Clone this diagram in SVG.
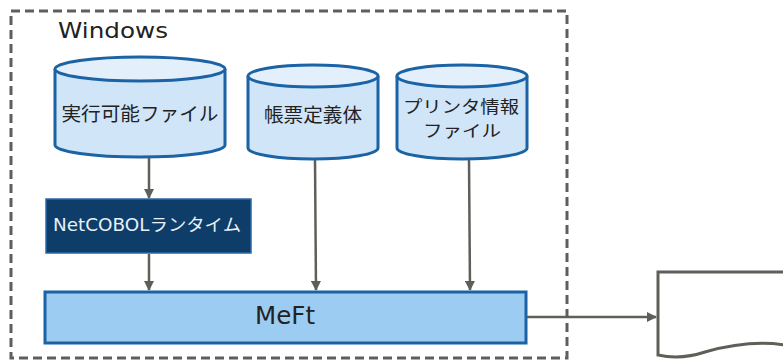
<svg xmlns="http://www.w3.org/2000/svg" width="783" height="363" viewBox="0 0 783 363">
<defs>
<style>
.cyl{fill:#d0e5f8;stroke:#1b63a5;stroke-width:3}
.cyltop{fill:#e3effa;stroke:#1b63a5;stroke-width:3}
.t{font-family:"Noto Sans CJK JP","Liberation Sans",sans-serif;fill:#222;text-anchor:middle}
.c{stroke:#5f5f5a;stroke-width:2.5;fill:none;marker-end:url(#ah)}
</style>
<marker id="ah" viewBox="0 0 10 10" refX="9" refY="5" markerWidth="4" markerHeight="4" orient="auto" markerUnits="strokeWidth">
<path d="M0,0 L10,5 L0,10 z" fill="#5f5f5a"/>
</marker>
</defs>
<rect width="783" height="363" fill="#fff"/>
<g id="windows">
<rect x="11" y="11" width="556" height="347" fill="none" stroke="#5f5f5a" stroke-width="3" stroke-dasharray="9,5"/>
<text x="58" y="38" font-family="Verdana,'DejaVu Sans',sans-serif" font-size="21" fill="#222" textLength="110" lengthAdjust="spacingAndGlyphs">Windows</text>
</g>
<g id="exe">
<path class="cyl" d="M55,69 V145 A85,12 0 0 0 225,145 V69"/>
<ellipse class="cyltop" cx="140" cy="69" rx="85" ry="12"/>
<text class="t" x="140" y="121" font-size="19" textLength="157" lengthAdjust="spacingAndGlyphs">実行可能ファイル</text>
</g>
<g id="form">
<path class="cyl" d="M248,76 V148 A65,11 0 0 0 378,148 V76"/>
<ellipse class="cyltop" cx="313" cy="76" rx="65" ry="11"/>
<text class="t" x="313" y="122" font-size="19" textLength="98" lengthAdjust="spacingAndGlyphs">帳票定義体</text>
</g>
<g id="printer">
<path class="cyl" d="M397,76 V148 A65,11 0 0 0 527,148 V76"/>
<ellipse class="cyltop" cx="462" cy="76" rx="65" ry="11"/>
<text class="t" x="461" y="113" font-size="16.5" textLength="116" lengthAdjust="spacingAndGlyphs">プリンタ情報</text>
<text class="t" x="462" y="137" font-size="16.5" textLength="78" lengthAdjust="spacingAndGlyphs">ファイル</text>
</g>
<g id="runtime">
<rect x="46" y="199" width="205" height="54" fill="#0e3d69" stroke="#2a6aa8" stroke-width="1.5"/>
<text x="147" y="231" font-family="Verdana,'DejaVu Sans','Noto Sans CJK JP',sans-serif" font-size="17" fill="#e8f0f8" text-anchor="middle" textLength="188" lengthAdjust="spacingAndGlyphs">NetCOBOLランタイム</text>
</g>
<g id="meft">
<rect x="45" y="292" width="481" height="51" fill="#9dccf2" stroke="#1b63a5" stroke-width="3"/>
<text x="285" y="324" font-family="Verdana,'DejaVu Sans',sans-serif" font-size="24" fill="#222" text-anchor="middle" textLength="60" lengthAdjust="spacingAndGlyphs">MeFt</text>
</g>
<g id="doc">
<path d="M658,272 H790 V346 C760,340 730,345 705,352 C690,357 672,358 658,355 Z" fill="#fff" stroke="#5f5f5a" stroke-width="3"/>
</g>
<g id="connectors">
<line class="c" x1="149" y1="158" x2="149" y2="198"/>
<line class="c" x1="149" y1="254" x2="149" y2="290"/>
<line class="c" x1="315" y1="160" x2="316" y2="290"/>
<line class="c" x1="469" y1="160" x2="470" y2="290"/>
<line class="c" x1="527" y1="317" x2="656" y2="317"/>
</g>
</svg>
